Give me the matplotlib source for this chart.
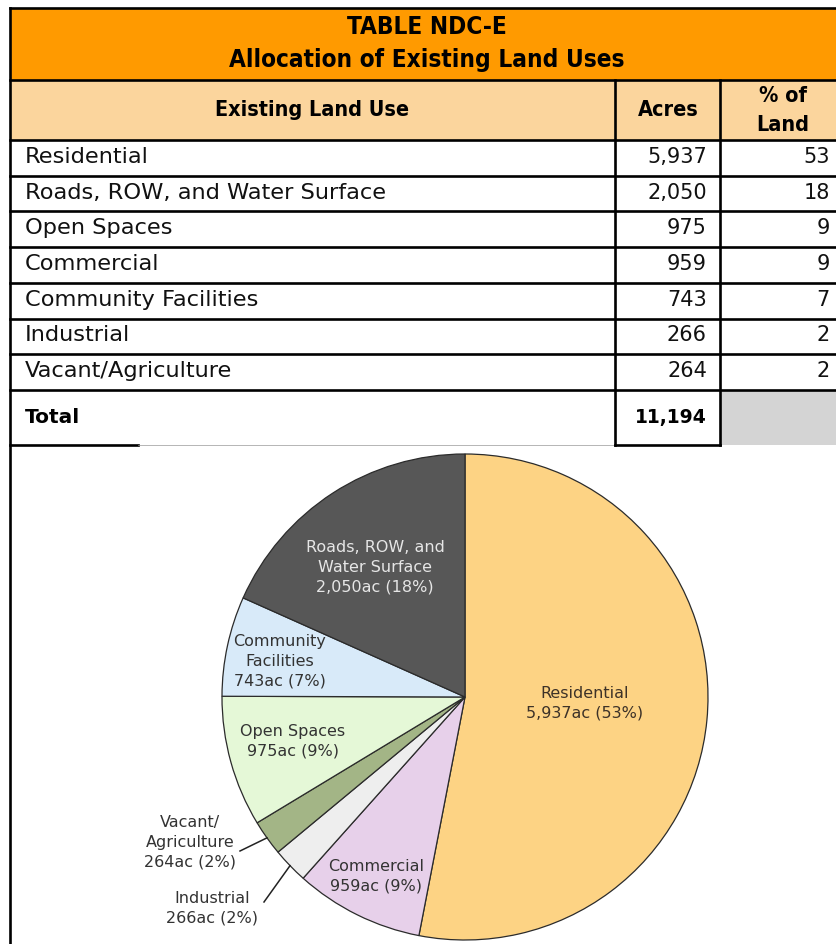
import matplotlib
matplotlib.use("Agg")
import matplotlib.pyplot as plt
import numpy as np

# table data (table order)
land_uses = ["Residential", "Roads, ROW, and Water Surface", "Open Spaces",
             "Commercial", "Community Facilities", "Industrial", "Vacant/Agriculture"]
acres = [5937, 2050, 975, 959, 743, 266, 264]
pct_land = [53, 18, 9, 9, 7, 2, 2]

# pie order (clockwise from top) and colours
pie_order = ["Residential", "Commercial", "Industrial", "Vacant/Agriculture",
             "Open Spaces", "Community Facilities", "Roads, ROW, and Water Surface"]
pie_colors = ["#FDD384", "#E7D0EA", "#EEEEEE", "#A3B586", "#E5F8D7", "#D8EAF9", "#575757"]
pie_names = ["Residential", "Commercial", "Industrial", "Vacant/\nAgriculture",
             "Open Spaces", "Community\nFacilities", "Roads, ROW, and\nWater Surface"]

W, H = 836, 944
fig = plt.figure(figsize=(W / 100, H / 100), dpi=100)

# pie in its own square axes
cx, cy, r = 465, 697, 243
box = 246
pie_ax = fig.add_axes([(cx - box) / W, (H - cy - box) / H, 2 * box / W, 2 * box / H])
pie_vals = [acres[land_uses.index(n)] for n in pie_order]
wedges, _ = pie_ax.pie(pie_vals, colors=pie_colors, startangle=90, counterclock=False,
                       wedgeprops=dict(edgecolor="#2b2b2b", linewidth=0.9))
lim = box / r
pie_ax.set_xlim(-lim, lim)
pie_ax.set_ylim(-lim, lim)
pie_ax.axis("off")

# overlay axes in pixel units for the table and labels
ax = fig.add_axes([0, 0, 1, 1])
ax.set_xlim(0, W)
ax.set_ylim(H, 0)
ax.axis("off")

left, right = 10, 840
col1, col2 = 615, 720
top, title_bot, head_bot = 8, 80, 140
row_h = 35.7
total_top = head_bot + row_h * len(land_uses)
total_bot = 445

ax.add_patch(plt.Rectangle((left, top), right - left, title_bot - top, color="#FF9A00", lw=0))
ax.add_patch(plt.Rectangle((left, title_bot), right - left, head_bot - title_bot, color="#FBD59D", lw=0))
ax.add_patch(plt.Rectangle((col2, total_top), right - col2, total_bot - total_top, color="#D4D4D4", lw=0))

lw = 1.9
for y in [top, title_bot, head_bot]:
    ax.plot([left, right], [y, y], color="black", lw=lw)
for i in range(1, len(land_uses) + 1):
    y = head_bot + row_h * i
    ax.plot([left, right], [y, y], color="black", lw=lw)
ax.plot([left, 138], [total_bot, total_bot], color="black", lw=lw)
ax.plot([138, col1], [total_bot, total_bot], color="#999999", lw=0.5)
ax.plot([col1, col2], [total_bot, total_bot], color="black", lw=lw)
ax.plot([left, left], [top, H], color="black", lw=lw)
for x in [col1, col2]:
    ax.plot([x, x], [title_bot, total_bot], color="black", lw=lw)

hfont = dict(family="DejaVu Sans", fontweight="bold", fontstretch="condensed")
ax.text(427, 27, "TABLE NDC-E", ha="center", va="center", fontsize=17.5, **hfont)
ax.text(427, 60, "Allocation of Existing Land Uses", ha="center", va="center", fontsize=17.5, **hfont)
ax.text(312, 110, "Existing Land Use", ha="center", va="center", fontsize=15.5, **hfont)
ax.text(668, 110, "Acres", ha="center", va="center", fontsize=15.5, **hfont)
ax.text(783, 96, "% of", ha="center", va="center", fontsize=15.5, **hfont)
ax.text(783, 125, "Land", ha="center", va="center", fontsize=15.5, **hfont)

for i, (name, a, p) in enumerate(zip(land_uses, acres, pct_land)):
    y = head_bot + row_h * (i + 0.5) - 1
    ax.text(25, y, name, ha="left", va="center", fontsize=16.2, color="#111111")
    ax.text(707, y, f"{a:,}", ha="right", va="center", fontsize=15, color="#111111")
    ax.text(830, y, f"{p}", ha="right", va="center", fontsize=15, color="#111111")

ty = (total_top + total_bot) / 2
ax.text(25, ty, "Total", ha="left", va="center", fontsize=14.5, fontweight="bold")
ax.text(707, ty, f"{sum(acres):,}", ha="right", va="center", fontsize=13.5, fontweight="bold")

# pie labels
pie_labels = [f"{n}\n{v:,}ac ({pct_land[land_uses.index(o)]}%)"
              for n, v, o in zip(pie_names, pie_vals, pie_order)]
label_pos = [(585, 703), (376, 876), (212, 908), (190, 842), (293, 741), (280, 661), (375, 567)]
label_col = ["#3d3228", "#333333", "#333333", "#333333", "#333333", "#333333", "#E6E6E6"]
for lab, (x, y), c in zip(pie_labels, label_pos, label_col):
    ax.text(x, y, lab, ha="center", va="center", fontsize=11.5, color=c, linespacing=1.4)

# leader lines for the two thin wedges
to_px = ax.transData.inverted()
for idx, start in [(2, (264, 902)), (3, (240, 851))]:
    w = wedges[idx]
    mid = np.deg2rad((w.theta1 + w.theta2) / 2)
    end = to_px.transform(pie_ax.transData.transform((np.cos(mid), np.sin(mid))))
    ax.plot([start[0], end[0]], [start[1], end[1]], color="#222222", lw=1.1)

fig.savefig("out.png", dpi=100)
